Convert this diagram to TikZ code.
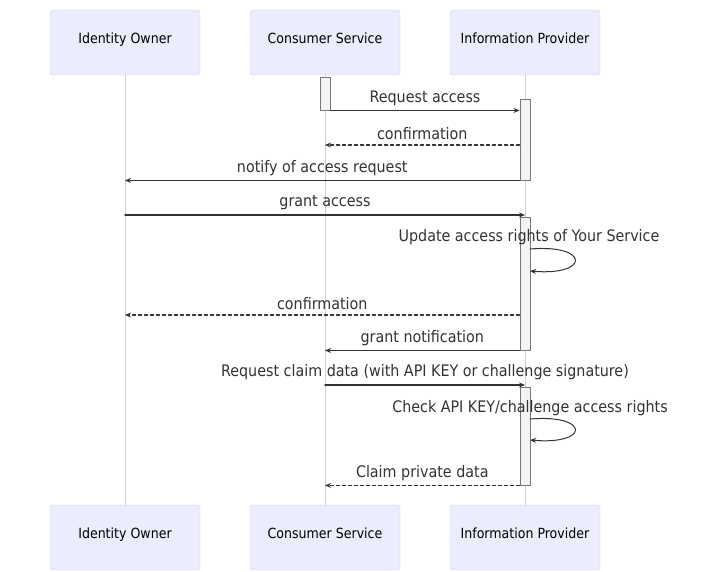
\documentclass[tikz,border=0pt]{standalone}
\usepackage{fontspec}
\setmainfont{DejaVu Sans Condensed}
\usetikzlibrary{arrows.meta}
\definecolor{actorfill}{HTML}{ECECFF}
\definecolor{actorline}{HTML}{D4CCF3}
\definecolor{msgline}{HTML}{333333}
\definecolor{lifegray}{HTML}{CFCFCF}
\definecolor{actfill}{HTML}{F4F4F4}
\definecolor{actline}{HTML}{777777}
\begin{document}
\begin{tikzpicture}[x=1pt, y=-1pt, line cap=round, line join=round, >={Stealth[length=6pt,width=5pt]}, font=\fontsize{15.9}{18}\selectfont]
	\tikzset{actor/.style={draw=actorline, fill=actorfill, rounded corners=3pt, minimum width=150pt, minimum height=65pt, inner sep=0pt, text height=10pt, text depth=8pt, font=\fontsize{14}{16}\selectfont},
		lifeline/.style={draw=lifegray, line width=0.9pt},
		activation/.style={draw=actline, fill=actfill, line width=0.9pt, minimum width=10pt, inner sep=0pt},
		msg/.style={draw=msgline, line width=1.5pt, ->},
		reply/.style={msg, dash pattern=on 3pt off 3pt},
		msg label/.style={midway, above=1pt, text=msgline}}
	\useasboundingbox (0,0) rectangle (717,571);
	% actors
	\node[actor] (io) at (125,42.5) {Identity Owner};
	\node[actor] (cs) at (325,42.5) {Consumer Service};
	\node[actor] (ip) at (525,42.5) {Information Provider};
	\node[actor] (io2) at (125,537.5) {Identity Owner};
	\node[actor] (cs2) at (325,537.5) {Consumer Service};
	\node[actor] (ip2) at (525,537.5) {Information Provider};
	\draw[lifeline] (io) -- (io2);
	\draw[lifeline] (cs) -- (cs2);
	\draw[lifeline] (ip) -- (ip2);
	% activations
	\node[activation, minimum height=33pt] (a1) at (325,93.5) {};
	\node[activation, minimum height=81pt] (a2) at (525,139.5) {};
	\node[activation, minimum height=133pt] (a3) at (525,283.5) {};
	\node[activation, minimum height=98pt] (a4) at (525,436) {};
	% message rows
	\coordinate (r2) at (0,145);
	\coordinate (r4) at (0,215);
	\coordinate (r5) at (0,315);
	\coordinate (r7) at (0,385);
	\coordinate (u1) at (530,249);
	\coordinate (u2) at (530,271);
	\coordinate (v1) at (530,419);
	\coordinate (v2) at (530,440);
	% messages
	\draw[msg] (a1.south east) -- (a2.west |- a1.south) node[msg label]{Request access};
	\draw[reply] (a2.west |- r2) -- (cs |- r2) node[msg label]{confirmation};
	\draw[msg] (a2.south west) -- (io |- a2.south) node[msg label]{notify of access request};
	\draw[msg] (io |- r4) -- (ip |- r4) node[msg label]{grant access};
	\node[text=msgline] (upd) at (529,237) {Update access rights of Your Service};
	\draw[msg, line width=1pt] (u1) .. controls ([xshift=60pt,yshift=5pt]u1) and ([xshift=60pt,yshift=-5pt]u2) .. (u2);
	\draw[reply] (a3.west |- r5) -- (io |- r5) node[msg label]{confirmation};
	\draw[msg] (a3.south west) -- (cs |- a3.south) node[msg label]{grant notification};
	\draw[msg] (cs |- r7) -- (ip |- r7) node[msg label]{Request claim data (with API KEY or challenge signature)};
	\node[text=msgline] (chk) at (530,408) {Check API KEY/challenge access rights};
	\draw[msg, line width=1pt] (v1) .. controls ([xshift=60pt,yshift=5pt]v1) and ([xshift=60pt,yshift=-5pt]v2) .. (v2);
	\draw[reply] (a4.south west) -- (cs |- a4.south) node[msg label]{Claim private data};
\end{tikzpicture}
\end{document}
